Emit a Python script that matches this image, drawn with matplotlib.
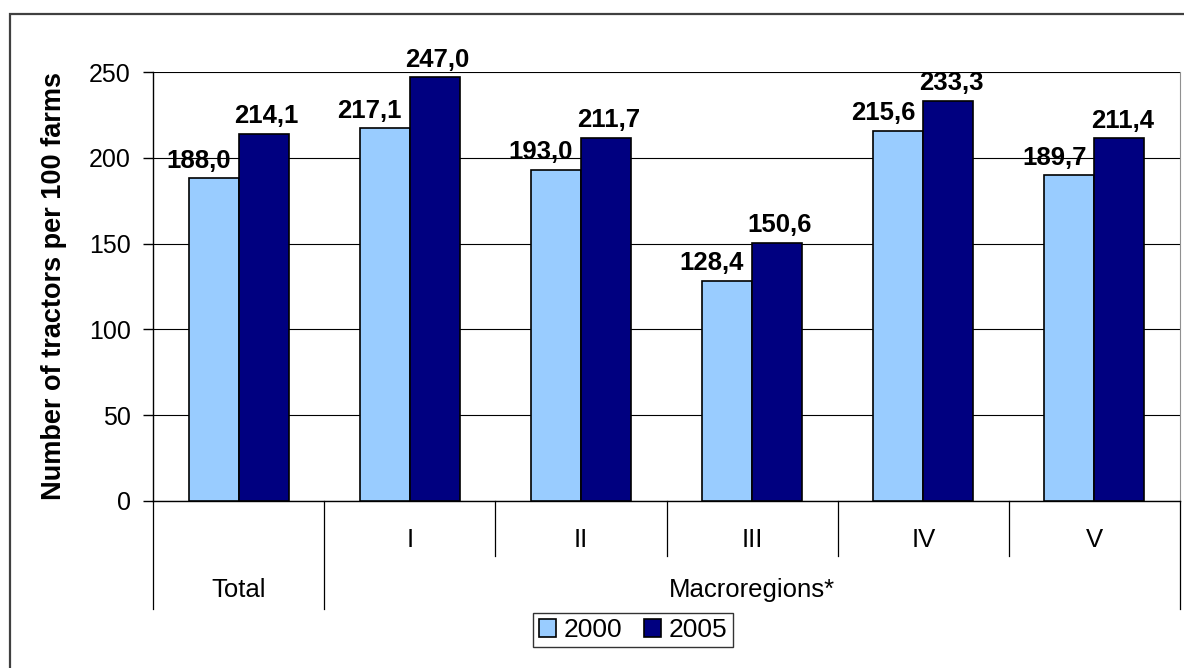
import matplotlib
matplotlib.use("Agg")
import matplotlib.pyplot as plt
from matplotlib.patches import Rectangle

plt.rcParams['font.family'] = ['Liberation Sans', 'DejaVu Sans']

groups = ["Total", "I", "II", "III", "IV", "V"]
region_labels = ["", "I", "II", "III", "IV", "V"]
years = ["2000", "2005"]
vals_2000 = [188.0, 217.1, 193.0, 128.4, 215.6, 189.7]
vals_2005 = [214.1, 247.0, 211.7, 150.6, 233.3, 211.4]
yticks = [0, 50, 100, 150, 200, 250]

W, H = 1184, 668
fig = plt.figure(figsize=(W / 100, H / 100), dpi=100)

# outer chart frame (runs off the right and bottom edges)
fig.patches.append(Rectangle((10 / W, -0.05), 1.1, 1 - 14 / H + 0.05,
                             transform=fig.transFigure, fill=False,
                             edgecolor='#404040', linewidth=1.6))

ax = fig.add_axes([153 / W, 1 - 501 / H, (1180 - 153) / W, (501 - 72) / H])

bw = 0.292
x = [i + 0.5 for i in range(len(groups))]
b1 = ax.bar([p - bw / 2 for p in x], vals_2000, bw, color='#99CCFF',
            edgecolor='black', linewidth=1.2, label=years[0], zorder=3)
b2 = ax.bar([p + bw / 2 for p in x], vals_2005, bw, color='#000080',
            edgecolor='black', linewidth=1.2, label=years[1], zorder=3)

for bars, vals, dx in ((b1, vals_2000, -11), (b2, vals_2005, 2)):
    for r, v in zip(bars, vals):
        ax.annotate(f"{v:.1f}".replace('.', ','),
                    (r.get_x() + r.get_width() / 2, v),
                    xytext=(dx, 4), textcoords='offset points',
                    ha='center', va='bottom', fontsize=18.5, fontweight='bold')

ax.set_xlim(0, len(groups))
ax.set_ylim(0, 250)
ax.set_yticks(yticks)
ax.tick_params(axis='y', labelsize=18, length=7, width=1, pad=9)
ax.set_xticks([])
ax.yaxis.grid(True, color='black', linewidth=0.8)
ax.set_axisbelow(True)
ax.spines['top'].set_visible(False)
ax.spines['right'].set_color('#909090')
ax.spines['left'].set_linewidth(1)
ax.spines['bottom'].set_linewidth(1)
ax.set_ylabel("Number of tractors per 100 farms", fontsize=19.5,
              fontweight='bold', labelpad=16)

# two-level category table below the axis
tr = ax.get_xaxis_transform()
short_y = -(556 - 501) / 429
long_y = -(609 - 501) / 429
for i in range(len(groups) + 1):
    bottom = long_y if i in (0, 1, len(groups)) else short_y
    ax.plot([i, i], [0, bottom], transform=tr, color='black',
            linewidth=0.9, clip_on=False)
for p, lab in zip(x, region_labels):
    ax.text(p, -(540 - 501) / 429, lab, transform=tr, ha='center',
            va='center', fontsize=18.5)
ax.text(x[0], -(590 - 501) / 429, groups[0], transform=tr, ha='center',
        va='center', fontsize=18.5)
ax.text((1 + len(groups)) / 2, -(590 - 501) / 429, "Macroregions*",
        transform=tr, ha='center', va='center', fontsize=18.5)

fig.legend(loc='center', bbox_to_anchor=(633 / W, 1 - 630 / H), ncol=2,
           fontsize=19, frameon=True, fancybox=False, edgecolor='black',
           handlelength=0.65, handleheight=0.65, handletextpad=0.3,
           columnspacing=0.8, borderpad=0.2, borderaxespad=0)

fig.savefig("out.png", dpi=100)
